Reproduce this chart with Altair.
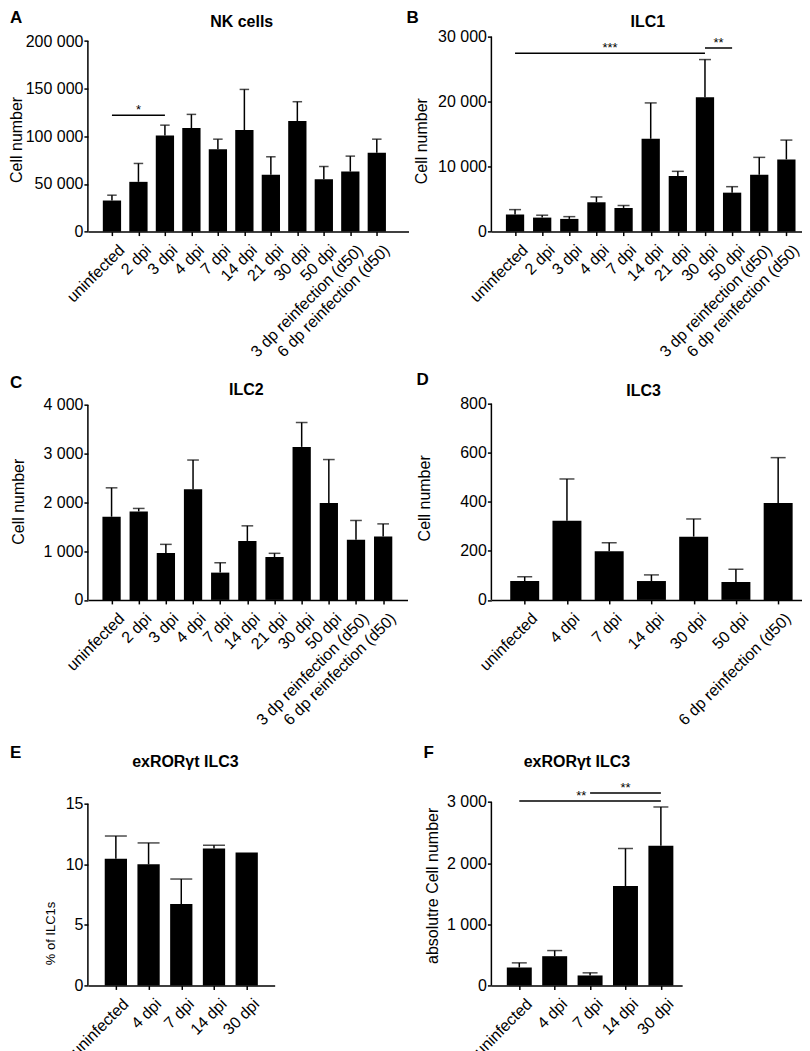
import json
import altair as alt
import pandas as pd

FONT = "Liberation Sans"

# ---------------- data ----------------
cats_long = ["uninfected", "2 dpi", "3 dpi", "4 dpi", "7 dpi", "14 dpi", "21 dpi",
             "30 dpi", "50 dpi", "3 dp reinfection (d50)", "6 dp reinfection (d50)"]
nk_mean = [32600, 52200, 100900, 108600, 86500, 106500, 59600, 116000, 55000, 63000, 82700]
nk_top = [38200, 71500, 111700, 123000, 97000, 149200, 78500, 136300, 68300, 79200, 97000]

ilc1_mean = [2610, 2150, 1950, 4510, 3640, 14280, 8550, 20680, 5990, 8750, 11110]
ilc1_top = [3380, 2520, 2300, 5330, 4000, 19800, 9270, 26470, 6910, 11420, 14080]

ilc2_mean = [1707, 1816, 962, 2270, 560, 1210, 880, 3140, 1986, 1236, 1300]
ilc2_top = [2300, 1877, 1140, 2870, 765, 1520, 956, 3640, 2880, 1630, 1560]

cats_ilc3 = ["uninfected", "4 dpi", "7 dpi", "14 dpi", "30 dpi", "50 dpi", "6 dp reinfection (d50)"]
ilc3_mean = [77, 323, 198, 77, 258, 73, 395]
ilc3_top = [94, 493, 233, 102, 330, 125, 580]

cats_ex = ["uninfected", "4 dpi", "7 dpi", "14 dpi", "30 dpi"]
expct_mean = [10.46, 9.99, 6.72, 11.31, 10.96]
expct_top = [12.33, 11.76, 8.78, 11.56, None]
exabs_mean = [293, 478, 163, 1624, 2283]
exabs_top = [369, 570, 206, 2239, 2918]

yt_nk = [0, 50000, 100000, 150000, 200000]
yt_ilc1 = [0, 10000, 20000, 30000]
yt_ilc2 = [0, 1000, 2000, 3000, 4000]
yt_ilc3 = [0, 200, 400, 600, 800]
yt_expct = [0, 5, 10, 15]
yt_exabs = [0, 1000, 2000, 3000]

# significance brackets: start index, end index, height, label, label index
sig_nk = {"x1": [0], "x2": [2], "y": [122200], "lab": ["*"], "sx": [1]}
sig_ilc1 = {"x1": [0, 7], "x2": [7, 8], "y": [27440, 28250], "lab": ["***", "**"], "sx": [3.5, 7.5]}
sig_exabs = {"x1": [0, 2], "x2": [4, 4], "y": [3016, 3147], "lab": ["**", "**"], "sx": [1.75, 3]}

LABEL_Y = "replace(format(datum.value, ','), ',', ' ')"


def panel(cats, mean, top, *, W, H, first_px, step_px, bar_w, cap_w, y_ticks, t_off,
          title, title_xy, letter, letter_xy, ytitle, ytitle_xy, ytitle_size=16, sig=None):
    n = len(cats)
    lo = -first_px / step_px
    hi = lo + W / step_px
    ymax = y_ticks[-1]
    ydom = ymax * H / (H - t_off)
    xs = alt.Scale(domain=[lo, hi], nice=False, zero=False)
    ys = alt.Scale(domain=[0, ydom], nice=False, zero=False)
    df = pd.DataFrame({"i": list(range(n)), "v": mean, "e": top})
    label_expr = "[" + ",".join(json.dumps(c) for c in cats) + "][datum.value]"
    xax = alt.Axis(values=list(range(n)), labelExpr=label_expr, labelAngle=-45,
                   labelAlign="right", labelBaseline="top", labelPadding=6, labelOffset=4,
                   labelOverlap=False, labelFlush=False, labelLimit=400, title=None,
                   grid=False)
    yax = alt.Axis(values=y_ticks, labelExpr=LABEL_Y, domain=False, title=None, grid=False,
                   labelOverlap=False, labelFlush=False, labelPadding=1)

    def X(f):
        return alt.X(f, scale=xs, axis=xax)

    def Y(f):
        return alt.Y(f, scale=ys, axis=yax)

    bars = alt.Chart(df).mark_bar(color="black", size=bar_w, orient="vertical").encode(
        x=X("i:Q"), y=alt.Y("v:Q", scale=ys, axis=yax, stack=None))
    edf = df.dropna()
    err = alt.Chart(edf).mark_rule(color="black", strokeWidth=1.5).encode(
        x=X("i:Q"), y=Y("v:Q"), y2="e:Q")
    caps = alt.Chart(edf).mark_tick(color="black", orient="horizontal", size=cap_w,
                                     thickness=1.5).encode(x=X("i:Q"), y=Y("e:Q"))
    yline = alt.Chart(pd.DataFrame({"y0": [0], "y1": [ymax]})).mark_rule(
        color="black", strokeWidth=1.5).encode(x=alt.value(0), y=Y("y0:Q"), y2="y1:Q")

    layers = [bars, err, caps, yline]
    if sig is not None:
        sdf = pd.DataFrame(sig)
        layers.append(alt.Chart(sdf).mark_rule(color="black", strokeWidth=1.5).encode(
            x=X("x1:Q"), x2="x2:Q", y=Y("y:Q")))
        layers.append(alt.Chart(sdf).mark_text(font=FONT, fontSize=13, color="black",
                                               baseline="alphabetic", dy=-1).encode(
            x=X("sx:Q"), y=Y("y:Q"), text="lab:N"))

    def txt(t, xy, size, bold=False, angle=0, align="center", baseline="alphabetic"):
        kw = dict(font=FONT, fontSize=size, color="black", align=align, baseline=baseline)
        if bold:
            kw["fontWeight"] = "bold"
        if angle:
            kw["angle"] = angle
        return alt.Chart(pd.DataFrame({"t": [t]})).mark_text(**kw).encode(
            text="t:N", x=alt.value(xy[0]), y=alt.value(xy[1]))

    layers.append(txt(title, title_xy, 16, bold=True))
    layers.append(txt(letter, letter_xy, 17, bold=True, align="left", baseline="top"))
    layers.append(txt(ytitle, ytitle_xy, ytitle_size, angle=270))
    return alt.layer(*layers).properties(width=W, height=H)


pA = panel(cats_long, nk_mean, nk_top, W=321, H=195.2, first_px=19.7, step_px=27.37,
           bar_w=18.3, cap_w=9.5, y_ticks=yt_nk, t_off=4.4,
           title="NK cells", title_xy=(154, -9.3), letter="A", letter_xy=(-78, -26.3),
           ytitle="Cell number", ytitle_xy=(-66, 103.4), sig=sig_nk)
pB = panel(cats_long, ilc1_mean, ilc1_top, W=311, H=195.2, first_px=19.3, step_px=28.07,
           bar_w=18.3, cap_w=12, y_ticks=yt_ilc1, t_off=0,
           title="ILC1", title_xy=(156.7, -9.3), letter="B", letter_xy=(-85, -26.3),
           ytitle="Cell number", ytitle_xy=(-64.3, 104.7), sig=sig_ilc1)
pC = panel(cats_long, ilc2_mean, ilc2_top, W=320, H=196.5, first_px=19.3, step_px=28.07,
           bar_w=18.3, cap_w=11.7, y_ticks=yt_ilc2, t_off=1.3,
           title="ILC2", title_xy=(158.7, -8.3), letter="C", letter_xy=(-78, -29),
           ytitle="Cell number", ytitle_xy=(-64, 98.2))
pD = panel(cats_ilc3, ilc3_mean, ilc3_top, W=311, H=196.5, first_px=29.3, step_px=43.7,
           bar_w=29, cap_w=15, y_ticks=yt_ilc3, t_off=0,
           title="ILC3", title_xy=(152.3, -7.7), letter="D", letter_xy=(-75, -32),
           ytitle="Cell number", ytitle_xy=(-61, 94.8))
pE = panel(cats_ex, expct_mean, expct_top, W=187, H=214, first_px=24.3, step_px=34.6,
           bar_w=22.3, cap_w=22, y_ticks=yt_expct, t_off=32,
           title="exRORγt ILC3", title_xy=(97.6, -5), letter="E", letter_xy=(-78, -27),
           ytitle="% of ILC1s", ytitle_xy=(-33.4, 162), ytitle_size=13)
pF = panel(cats_ex, exabs_mean, exabs_top, W=191, H=214, first_px=24.2, step_px=37.4,
           bar_w=25, cap_w=15, y_ticks=yt_exabs, t_off=30.3,
           title="exRORγt ILC3", title_xy=(85.7, -5), letter="F", letter_xy=(-68, -27),
           ytitle="absolutre Cell number", ytitle_xy=(-53.3, 114.3), sig=sig_exabs)

chart = alt.concat(pA, pB, pC, pD, pE, pF, columns=2,
                   spacing={"row": 171.5, "column": 83},
                   bounds="flush", align="each").properties(
    padding=0, background="white"
).configure(font=FONT).configure_view(stroke=None).configure_axis(
    labelFont=FONT, labelFontSize=16, labelColor="black", domainColor="black",
    tickColor="black", domainWidth=1.5, tickWidth=1.5, tickSize=4, grid=False
)

chart.save("out.html", embed_options={"renderer": "svg", "actions": False})
